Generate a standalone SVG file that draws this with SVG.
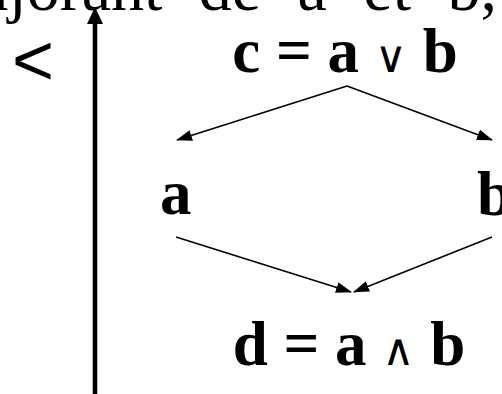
<svg xmlns="http://www.w3.org/2000/svg" width="502" height="394" viewBox="0 0 502 394">
<style>
.lbl{font-family:"Liberation Serif","DejaVu Serif",serif;font-weight:bold;font-size:63px;fill:#000}
.op{font-family:"DejaVu Sans","Liberation Sans",sans-serif;font-weight:normal;font-size:44px}
.edge{stroke:#000;stroke-width:1.6;fill:none;marker-end:url(#ah)}
.top{font-family:"Liberation Serif",serif;font-size:66px;fill:#000}
</style>
<defs>
<marker id="ah" markerUnits="userSpaceOnUse" markerWidth="16" markerHeight="12" refX="15" refY="5.5" orient="auto">
<path d="M0,0 L16,5.5 L0,11 z" fill="#000"/>
</marker>
</defs>
<rect width="502" height="394" fill="#fff"/>
<text class="top" x="497" y="10" text-anchor="end" word-spacing="20">majorant de a et b,</text>
<text id="lt" x="12" y="85" font-family="Liberation Sans,sans-serif" font-size="72" fill="#000">&lt;</text>
<g id="connectors">
<line x1="95" y1="394" x2="95" y2="22" stroke="#000" stroke-width="4.5"/>
<polygon points="95,7 103,24 87,24" fill="#000"/>
<path class="edge" d="M347,86 L177,140"/>
<path class="edge" d="M347,86 L492,140"/>
<path class="edge" d="M176,237 L351,292"/>
<path class="edge" d="M492,237 L354,292"/>
</g>
<g id="node-c"><text class="lbl" x="345" y="72" text-anchor="middle">c = a <tspan class="op">∨</tspan> b</text></g>
<g id="node-a"><text class="lbl" x="160" y="214">a</text></g>
<g id="node-b"><text class="lbl" x="477" y="215">b</text></g>
<g id="node-d"><text class="lbl" x="349" y="365" text-anchor="middle">d = a <tspan class="op">∧</tspan> b</text></g>
</svg>
